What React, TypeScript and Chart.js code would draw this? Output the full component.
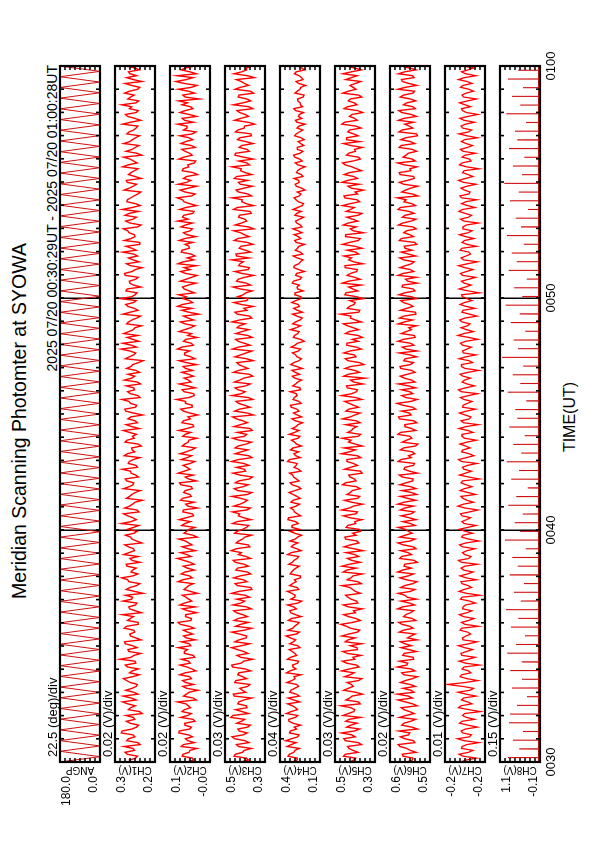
import React, { useEffect, useRef } from "react";
import { Chart, registerables } from "chart.js";

Chart.register(...registerables);

// ---------- time axis ----------
const T_MIN = 30;
const T_MAX = 60;
const TIME_TICKS = [30, 40, 50, 60];
const TIME_TICK_LABELS = ["0030", "0040", "0050", "0100"];

// ---------- panels ----------
const PANEL_NAMES = ["ANGP", "CH1(V)", "CH2(V)", "CH3(V)", "CH4(V)", "CH5(V)", "CH6(V)", "CH7(V)", "CH8(V)"];
const PANEL_DIV_LABELS = [
  "22.5 (deg)/div", "0.02 (V)/div", "0.02 (V)/div", "0.03 (V)/div", "0.04 (V)/div",
  "0.03 (V)/div", "0.02 (V)/div", "0.01 (V)/div", "0.15 (V)/div",
];
const PANEL_MIN = [0, 0.17, -0.04, 0.27, 0.08, 0.27, 0.47, -0.245, -0.1];
const PANEL_MAX = [180, 0.33, 0.12, 0.51, 0.4, 0.51, 0.63, -0.165, 1.1];
const PANEL_TOP_LABELS = ["180.0", "0.3", "0.1", "0.5", "0.4", "0.5", "0.6", "-0.2", "1.1"];
const PANEL_BOTTOM_LABELS = ["0.0", "0.2", "-0.0", "0.3", "0.1", "0.3", "0.5", "-0.2", "-0.1"];
const DIVISIONS = 8;

// ---------- data ----------
const ANGP_VALUES = [
  180, 0, 180, 0, 180, 0, 180, 0, 180, 0, 180, 0, 180, 0, 180, 0, 180, 0, 180, 0,
  180, 0, 180, 0, 180, 0, 180, 0, 180, 0, 180, 0, 180, 0, 180, 0, 180, 0, 180, 0,
  180, 0, 180, 0, 180, 0, 180, 0, 180, 0, 180, 0, 180, 0, 180, 0, 180, 0, 180, 0,
  180, 0, 180, 0, 180, 0, 180, 0, 180, 0, 180, 0, 180, 0, 180, 0, 180, 0, 180, 0,
  180, 0, 180, 0, 180, 0, 180, 0, 180, 0, 180, 0, 180, 0, 180, 0, 180, 0, 180, 0,
  180, 0, 180, 0, 180, 0, 180, 0, 180, 0, 180, 0, 180, 0, 180, 0, 180, 0, 180, 0,
  180, 0, 180, 0, 180, 0, 180, 0, 180, 0, 180,
];

// Each channel: samples A (on the sample grid) and B (the samples between them)
const CH1_A = [
  .265, .248, .281, .252, .294, .239, .276, .258, .301, .244,
  .270, .251, .286, .232, .268, .279, .245, .297, .256, .262,
  .241, .283, .259, .272, .236, .289, .250, .266, .227, .278,
  .260, .292, .247, .271, .255, .284, .238, .269, .301, .249,
  .275, .243, .263, .288, .252, .270, .231, .279, .258, .266,
  .246, .285, .262, .237, .274, .256, .291, .244, .268, .253,
  .280, .235, .266, .259, .296, .242, .271, .250, .284, .262,
  .229, .273, .255, .289, .247, .268, .240, .277, .257, .293,
  .251, .264, .238, .282, .260, .272, .233, .286, .249, .267,
  .256, .291, .243, .274, .230, .269, .252, .285, .241, .263,
  .278, .247, .266, .236, .288, .255, .271, .244, .299, .258,
  .239, .275, .250, .283, .262, .228, .270, .253, .287, .245,
  .264, .242, .281, .256, .273, .237, .292, .249, .268, .233,
  .276, .255, .245, .286, .231, .266, .252, .279, .240, .270,
  .258, .290, .236, .262, .248, .281, .254, .227, .273, .244,
  .285, .250, .266, .238, .277, .256, .296, .243, .262, .234,
  .271, .248, .283, .255, .239, .268, .251, .288, .237, .264,
  .246, .279, .253, .272, .231, .290, .257, .244, .276, .250,
];
const CH1_B = [
  .272, .240, .290, .258, .229, .283, .250, .305, .263, .236,
  .284, .257, .221, .277, .249, .300, .266, .238, .287, .245,
  .269, .296, .233, .261, .280, .247, .310, .254, .275, .242,
  .289, .226, .268, .251, .293, .237, .280, .256, .224, .271,
  .248, .298, .260, .218, .285, .243, .275, .303, .239, .259,
  .282, .230, .270, .295, .252, .276, .222, .262, .288, .241,
  .256, .304, .245, .279, .234, .291, .260, .220, .272, .249,
  .296, .258, .283, .236, .266, .301, .246, .273, .231, .281,
  .262, .225, .290, .253, .244, .297, .263, .240, .278, .219,
  .287, .248, .268, .302, .238, .280, .255, .228, .292, .251,
  .232, .284, .259, .217, .273, .247, .306, .265, .235, .282,
  .295, .257, .224, .276, .243, .298, .238, .279, .255, .308,
  .250, .286, .226, .271, .247, .289, .261, .222, .284, .258,
  .240, .299, .263, .231, .292, .250, .274, .297, .226, .287,
  .244, .273, .301, .229, .283, .267, .238, .293, .257, .281,
  .225, .276, .252, .300, .241, .270, .223, .286, .249, .295,
  .260, .232, .274, .246, .299, .227, .280, .245, .272, .303,
  .235, .268, .291, .239, .264, .222, .283, .270, .233, .287,
];

const CH2_A = [
  .052, .031, .068, .040, .075, .022, .058, .047, .083, .035,
  .061, .028, .049, .072, .038, .056, .015, .066, .044, .053,
  .026, .070, .041, .059, .033, .080, .046, .021, .063, .050,
  .037, .074, .055, .029, .067, .043, .088, .034, .057, .048,
  .019, .062, .045, .071, .039, .054, .027, .069, .042, .060,
  .051, .024, .065, .036, .078, .047, .032, .058, .011, .064,
  .044, .073, .038, .055, .030, .067, .049, .023, .070, .041,
  .059, .035, .082, .046, .027, .063, .052, .039, .075, .033,
  .056, .018, .061, .045, .069, .037, .053, .029, .066, .048,
  .040, .077, .031, .058, .044, .025, .071, .050, .036, .064,
  .047, .030, .068, .054, .020, .062, .041, .073, .035, .057,
  .049, .084, .038, .060, .026, .066, .045, .032, .070, .043,
  .055, .022, .063, .047, .079, .034, .058, .040, .014, .067,
  .051, .036, .072, .044, .029, .061, .053, .039, .076, .030,
  .048, .065, .024, .057, .042, .070, .033, .060, .046, .087,
  .037, .054, .028, .068, .049, .017, .064, .041, .073, .035,
  .058, .045, .031, .066, .052, .026, .071, .043, .060, .038,
  .050, .003, .069, .046, .034, .063, .055, .092, .040, .057,
];
const CH2_B = [
  .025, .071, .044, .012, .066, .049, .030, .085, .041, .060,
  .020, .077, .035, .063, .047, .090, .028, .054, .008, .069,
  .058, .034, .081, .016, .052, .039, .074, .027, .062, .087,
  .043, .019, .066, .050, .024, .079, .036, .058, .013, .070,
  .081, .033, .056, .010, .064, .045, .088, .031, .075, .022,
  .067, .040, .091, .053, .018, .072, .046, .085, .029, .054,
  .021, .061, .083, .026, .069, .010, .057, .078, .035, .065,
  .030, .076, .015, .059, .087, .040, .068, .021, .052, .080,
  .034, .071, .047, .012, .060, .085, .025, .072, .039, .009,
  .067, .032, .058, .094, .023, .064, .019, .083, .046, .026,
  .073, .058, .014, .084, .037, .061, .090, .026, .066, .011,
  .034, .062, .021, .078, .048, .005, .073, .089, .030, .068,
  .086, .043, .070, .016, .056, .012, .077, .063, .088, .025,
  .020, .075, .042, .060, .083, .017, .066, .030, .058, .089,
  .070, .029, .081, .014, .064, .091, .020, .079, .013, .054,
  .066, .010, .071, .045, .023, .085, .031, .060, .019, .076,
  .029, .081, .016, .052, .090, .062, .014, .080, .028, .072,
  .085, .060, .022, .087, .012, .096, .028, .015, .076, .021,
];

const CH3_A = [
  .418, .382, .447, .395, .430, .366, .452, .401, .425, .374,
  .439, .392, .463, .408, .378, .433, .397, .455, .386, .421,
  .361, .444, .404, .427, .389, .470, .398, .416, .372, .437,
  .410, .451, .383, .423, .394, .446, .369, .431, .403, .458,
  .379, .414, .440, .388, .426, .355, .449, .400, .419, .376,
  .435, .396, .461, .384, .412, .443, .371, .428, .391, .453,
  .405, .367, .438, .399, .422, .380, .457, .393, .415, .374,
  .433, .402, .448, .363, .420, .387, .441, .397, .429, .368,
  .412, .450, .383, .425, .394, .436, .359, .418, .404, .465,
  .377, .424, .392, .444, .370, .411, .432, .386, .453, .398,
  .365, .427, .401, .439, .381, .416, .348, .430, .395, .446,
  .373, .409, .437, .389, .422, .362, .451, .397, .413, .379,
  .434, .385, .419, .357, .441, .393, .408, .372, .428, .400,
  .366, .445, .387, .415, .376, .432, .394, .458, .369, .411,
  .390, .424, .361, .437, .383, .406, .351, .429, .396, .418,
  .374, .440, .388, .412, .363, .427, .399, .447, .378, .409,
  .386, .421, .354, .433, .392, .371, .416, .389, .438, .367,
  .402, .380, .426, .358, .419, .393, .442, .375, .410, .384,
];
const CH3_B = [
  .370, .456, .405, .351, .441, .390, .468, .377, .433, .359,
  .412, .475, .369, .447, .383, .428, .350, .460, .406, .374,
  .452, .380, .433, .356, .465, .412, .344, .438, .397, .471,
  .362, .426, .380, .469, .349, .417, .455, .376, .440, .352,
  .462, .391, .363, .470, .349, .436, .378, .458, .356, .445,
  .370, .448, .357, .429, .473, .361, .443, .404, .350, .437,
  .382, .464, .353, .430, .466, .358, .420, .376, .468, .349,
  .455, .371, .427, .345, .462, .394, .367, .470, .348, .449,
  .372, .431, .351, .464, .380, .347, .457, .376, .441, .339,
  .452, .360, .428, .343, .468, .389, .449, .358, .421, .344,
  .459, .373, .426, .341, .451, .382, .466, .360, .430, .347,
  .445, .366, .424, .468, .350, .436, .379, .340, .456, .371,
  .401, .347, .462, .383, .431, .338, .451, .364, .420, .469,
  .441, .356, .425, .343, .455, .365, .417, .337, .449, .381,
  .428, .352, .459, .338, .410, .467, .373, .444, .346, .430,
  .455, .349, .417, .468, .378, .340, .451, .364, .425, .341,
  .435, .352, .447, .395, .332, .452, .369, .423, .343, .460,
  .356, .431, .338, .449, .368, .413, .334, .457, .380, .345,
];

const CH4_A = [
  .301, .262, .325, .280, .343, .271, .308, .249, .318, .286,
  .297, .330, .258, .312, .276, .339, .290, .245, .321, .283,
  .266, .306, .288, .348, .273, .299, .252, .315, .281, .327,
  .259, .294, .317, .268, .336, .284, .247, .309, .277, .322,
  .290, .255, .313, .279, .341, .263, .300, .285, .238, .307,
  .272, .329, .289, .251, .311, .266, .293, .320, .259, .283,
  .244, .305, .276, .331, .262, .290, .271, .312, .240, .296,
  .281, .254, .318, .269, .298, .233, .287, .263, .324, .275,
  .250, .295, .268, .309, .241, .284, .302, .257, .278, .226,
  .292, .264, .316, .249, .286, .271, .236, .299, .258, .281,
  .243, .304, .266, .289, .229, .276, .252, .311, .261, .235,
  .283, .247, .270, .298, .239, .265, .221, .290, .255, .274,
  .232, .279, .260, .246, .293, .228, .268, .251, .285, .237,
  .262, .219, .277, .248, .270, .234, .287, .256, .224, .266,
  .243, .281, .230, .259, .212, .272, .245, .263, .227, .279,
  .251, .216, .268, .238, .257, .223, .283, .241, .261, .209,
  .254, .232, .270, .218, .248, .264, .226, .245, .275, .220,
  .239, .258, .207, .262, .234, .251, .215, .247, .271, .229,
];
const CH4_B = [
  .263, .337, .289, .246, .310, .355, .257, .324, .268, .235,
  .329, .276, .349, .260, .301, .242, .335, .270, .312, .251,
  .344, .279, .233, .320, .296, .258, .340, .266, .303, .240,
  .323, .275, .351, .245, .297, .262, .333, .230, .314, .268,
  .339, .227, .283, .306, .250, .323, .271, .236, .318, .294,
  .246, .301, .264, .340, .231, .310, .257, .278, .228, .321,
  .304, .255, .336, .234, .286, .316, .244, .295, .265, .328,
  .232, .303, .247, .291, .322, .252, .270, .339, .238, .289,
  .317, .229, .284, .255, .326, .249, .271, .219, .305, .262,
  .248, .310, .230, .295, .264, .318, .241, .275, .227, .302,
  .279, .222, .313, .248, .265, .301, .236, .280, .206, .293,
  .258, .315, .235, .276, .222, .301, .261, .245, .307, .231,
  .282, .214, .263, .302, .240, .275, .205, .290, .249, .216,
  .295, .239, .261, .204, .283, .254, .225, .297, .238, .276,
  .211, .266, .296, .221, .254, .288, .233, .201, .270, .246,
  .287, .229, .260, .199, .278, .243, .292, .216, .262, .235,
  .207, .283, .244, .263, .200, .276, .252, .212, .290, .236,
  .259, .214, .280, .241, .196, .272, .227, .284, .202, .256,
];

const CH5_A = [
  .421, .386, .448, .402, .435, .371, .457, .410, .393, .440,
  .378, .426, .462, .397, .415, .359, .444, .408, .387, .431,
  .412, .369, .453, .395, .424, .381, .466, .403, .436, .376,
  .418, .449, .390, .427, .362, .441, .405, .384, .458, .399,
  .430, .373, .414, .446, .388, .420, .352, .437, .401, .461,
  .383, .425, .409, .368, .443, .396, .417, .379, .451, .404,
  .365, .433, .392, .422, .385, .470, .398, .411, .374, .439,
  .406, .381, .447, .393, .428, .356, .416, .400, .438, .377,
  .423, .455, .389, .413, .370, .434, .402, .445, .382, .419,
  .360, .427, .397, .452, .386, .409, .375, .441, .399, .330,
  .430, .391, .418, .363, .448, .395, .421, .383, .439, .406,
  .372, .426, .401, .460, .388, .415, .367, .436, .396, .422,
  .380, .444, .403, .354, .429, .392, .417, .376, .450, .398,
  .411, .369, .437, .389, .424, .358, .446, .400, .383, .431,
  .405, .371, .442, .394, .419, .378, .456, .390, .413, .364,
  .434, .397, .425, .381, .448, .401, .370, .428, .393, .416,
  .362, .440, .399, .422, .385, .453, .392, .408, .374, .435,
  .395, .418, .368, .431, .402, .387, .445, .377, .412, .396,
];
const CH5_B = [
  .397, .459, .372, .426, .351, .448, .389, .470, .363, .416,
  .446, .356, .431, .391, .474, .370, .422, .345, .458, .401,
  .437, .349, .420, .471, .366, .441, .391, .354, .463, .378,
  .350, .432, .469, .375, .417, .475, .358, .429, .387, .346,
  .460, .381, .433, .357, .404, .468, .373, .415, .346, .440,
  .468, .359, .436, .391, .341, .455, .367, .447, .383, .357,
  .443, .386, .349, .460, .376, .425, .344, .452, .362, .418,
  .360, .465, .384, .420, .347, .453, .375, .438, .355, .471,
  .388, .345, .429, .467, .356, .411, .380, .359, .464, .392,
  .444, .368, .426, .349, .470, .381, .437, .343, .417, .458,
  .363, .450, .336, .432, .384, .457, .352, .440, .371, .345,
  .447, .368, .435, .352, .418, .477, .362, .424, .389, .340,
  .451, .373, .428, .466, .359, .437, .380, .449, .343, .428,
  .456, .386, .348, .465, .370, .447, .339, .418, .460, .374,
  .439, .348, .417, .466, .362, .452, .375, .340, .432, .469,
  .375, .455, .351, .409, .465, .358, .441, .387, .346, .459,
  .441, .371, .433, .354, .469, .377, .423, .344, .455, .378,
  .430, .349, .463, .384, .420, .355, .412, .463, .352, .438,
];

const CH6_A = [
  .562, .538, .581, .549, .590, .531, .571, .556, .594, .543,
  .575, .527, .566, .552, .585, .540, .598, .557, .534, .578,
  .550, .569, .521, .583, .546, .563, .592, .537, .573, .555,
  .544, .588, .560, .529, .576, .551, .595, .541, .567, .535,
  .580, .553, .524, .570, .548, .587, .539, .565, .557, .599,
  .545, .572, .533, .584, .558, .526, .577, .549, .591, .542,
  .568, .530, .579, .554, .546, .589, .536, .574, .560, .523,
  .582, .547, .566, .538, .593, .552, .570, .532, .586, .556,
  .541, .575, .519, .564, .550, .588, .544, .571, .535, .596,
  .553, .527, .578, .546, .567, .539, .584, .557, .530, .573,
  .561, .543, .590, .536, .569, .551, .522, .581, .548, .576,
  .533, .565, .555, .597, .540, .574, .528, .563, .552, .587,
  .545, .571, .537, .580, .559, .525, .577, .549, .568, .534,
  .591, .556, .542, .573, .531, .585, .551, .564, .539, .579,
  .526, .570, .554, .589, .543, .566, .518, .583, .547, .575,
  .560, .535, .593, .550, .572, .529, .578, .557, .541, .586,
  .548, .567, .524, .581, .553, .536, .574, .545, .595, .538,
  .563, .549, .576, .532, .569, .555, .584, .540, .571, .552,
];
const CH6_B = [
  .540, .578, .525, .563, .597, .536, .588, .551, .520, .583,
  .547, .592, .533, .574, .522, .569, .541, .601, .546, .529,
  .588, .540, .575, .530, .601, .559, .535, .579, .524, .586,
  .571, .522, .546, .593, .538, .582, .527, .576, .548, .600,
  .532, .586, .561, .597, .530, .571, .522, .590, .536, .580,
  .574, .521, .591, .544, .587, .537, .598, .529, .569, .557,
  .596, .548, .526, .585, .533, .571, .599, .527, .589, .544,
  .526, .591, .539, .581, .520, .574, .536, .597, .545, .531,
  .589, .528, .581, .543, .598, .527, .570, .523, .592, .546,
  .584, .540, .602, .521, .583, .551, .527, .596, .544, .589,
  .530, .587, .548, .575, .524, .593, .566, .534, .598, .529,
  .585, .545, .524, .572, .592, .526, .588, .538, .577, .523,
  .594, .530, .582, .521, .568, .598, .535, .590, .544, .575,
  .527, .585, .570, .523, .593, .536, .575, .525, .596, .546,
  .581, .534, .598, .528, .574, .600, .541, .568, .519, .592,
  .533, .590, .547, .522, .599, .541, .566, .524, .593, .531,
  .586, .520, .594, .539, .571, .596, .524, .583, .529, .576,
  .527, .589, .538, .598, .523, .580, .534, .596, .526, .583,
];

const CH7_A = [
  -.196, -.228, -.193, -.221, -.199, -.233, -.190, -.218, -.197, -.230,
  -.194, -.224, -.200, -.236, -.192, -.219, -.198, -.227, -.191, -.222,
  -.170, -.231, -.195, -.217, -.199, -.234, -.193, -.225, -.197, -.220,
  -.192, -.229, -.200, -.216, -.195, -.232, -.198, -.223, -.194, -.219,
  -.201, -.226, -.196, -.235, -.193, -.218, -.199, -.228, -.195, -.221,
  -.197, -.230, -.192, -.217, -.200, -.225, -.194, -.233, -.198, -.220,
  -.193, -.227, -.199, -.216, -.196, -.231, -.191, -.222, -.201, -.226,
  -.195, -.219, -.197, -.234, -.194, -.218, -.200, -.229, -.192, -.223,
  -.198, -.215, -.195, -.228, -.199, -.221, -.193, -.232, -.197, -.217,
  -.194, -.226, -.201, -.219, -.196, -.230, -.192, -.224, -.199, -.216,
  -.195, -.233, -.198, -.220, -.193, -.227, -.200, -.218, -.196, -.231,
  -.191, -.222, -.197, -.215, -.194, -.229, -.199, -.225, -.195, -.219,
  -.200, -.234, -.193, -.217, -.198, -.226, -.196, -.221, -.192, -.230,
  -.197, -.216, -.195, -.228, -.199, -.223, -.194, -.219, -.201, -.232,
  -.196, -.218, -.193, -.225, -.198, -.229, -.195, -.215, -.197, -.227,
  -.192, -.221, -.200, -.233, -.194, -.217, -.199, -.226, -.196, -.220,
  -.198, -.230, -.193, -.218, -.197, -.224, -.195, -.231, -.200, -.216,
  -.194, -.228, -.199, -.222, -.196, -.219, -.192, -.227, -.198, -.223,
];
const CH7_B = [
  -.207, -.201, -.212, -.198, -.209, -.203, -.214, -.200, -.206, -.211,
  -.199, -.208, -.204, -.213, -.197, -.210, -.202, -.207, -.215, -.200,
  -.205, -.209, -.198, -.212, -.203, -.206, -.211, -.199, -.208, -.204,
  -.213, -.201, -.207, -.210, -.198, -.205, -.212, -.202, -.209, -.200,
  -.206, -.214, -.199, -.208, -.203, -.211, -.197, -.207, -.210, -.202,
  -.205, -.198, -.213, -.204, -.209, -.200, -.207, -.212, -.201, -.206,
  -.210, -.203, -.208, -.199, -.214, -.205, -.202, -.209, -.197, -.211,
  -.204, -.207, -.200, -.212, -.206, -.203, -.210, -.198, -.208, -.213,
  -.201, -.206, -.209, -.204, -.199, -.211, -.207, -.202, -.214, -.205,
  -.208, -.200, -.210, -.203, -.212, -.197, -.206, -.209, -.204, -.201,
  -.211, -.205, -.198, -.213, -.207, -.202, -.209, -.200, -.206, -.212,
  -.203, -.208, -.210, -.199, -.205, -.214, -.201, -.207, -.204, -.209,
  -.198, -.211, -.206, -.203, -.212, -.200, -.208, -.205, -.210, -.202,
  -.207, -.213, -.199, -.209, -.204, -.206, -.211, -.201, -.208, -.203,
  -.212, -.205, -.200, -.210, -.207, -.198, -.213, -.204, -.209, -.202,
  -.206, -.211, -.203, -.208, -.199, -.214, -.205, -.201, -.210, -.207,
  -.204, -.209, -.212, -.200, -.206, -.203, -.211, -.208, -.198, -.205,
  -.210, -.202, -.207, -.213, -.201, -.209, -.204, -.206, -.211, -.200,
];

const CH8_BASE = -0.06;
const CH8_SPIKE_PEAKS = [
  .86, .52, .71, .41, .83, .80, .59, .29, .74, .44,
  .79, .45, .88, .62, .35, .77, .55, .92, .48, .68,
  .38, .81, .57, .73, .33, .95, .50, .66, .42, .85,
  .61, .27, .76, .53, .90, .46, .70, .36, .82, .58,
  .64, .31, .87, .49, .72, .40, 1.04, .56, .69, .34,
  .78, .51, .93, .43, .67, .30, .84, .60, .75, .39,
  .89, .47, .63, .26, .80, .54, .97, .44, .71, .37,
  .83, .58, .65, .32, .91, .49, .74, .41, .86, .55,
];

// ---------- build tables for Chart.js ----------
type Pt = { x: number; y: number };
function evenSeries(values: number[]): Pt[] {
  const n = values.length;
  return values.map((v, i) => ({ x: T_MIN + (i * (T_MAX - T_MIN)) / (n - 1), y: v }));
}
function interleave(a: number[], b: number[]): number[] {
  const out: number[] = [];
  a.forEach((v, i) => {
    out.push(v);
    if (i < b.length) out.push(b[i]);
  });
  return out;
}
function spikeSeries(peaks: number[], base: number): Pt[] {
  const n = peaks.length;
  const period = (T_MAX - T_MIN) / n;
  const pts: Pt[] = [{ x: T_MIN, y: base }];
  peaks.forEach((p, i) => {
    const t = T_MIN + (i + 0.5) * period;
    pts.push({ x: t - 0.006, y: base }, { x: t, y: p }, { x: t + 0.006, y: base });
  });
  pts.push({ x: T_MAX, y: base });
  return pts;
}

const SERIES: Pt[][] = [
  evenSeries(ANGP_VALUES),
  evenSeries(interleave(CH1_A, CH1_B)),
  evenSeries(interleave(CH2_A, CH2_B)),
  evenSeries(interleave(CH3_A, CH3_B)),
  evenSeries(interleave(CH4_A, CH4_B)),
  evenSeries(interleave(CH5_A, CH5_B)),
  evenSeries(interleave(CH6_A, CH6_B)),
  evenSeries(interleave(CH7_A, CH7_B)),
  spikeSeries(CH8_SPIKE_PEAKS, CH8_BASE),
];
const SERIES_COLORS = ["#d01010", "#ff0000", "#ff0000", "#ff0000", "#ff0000", "#ff0000", "#ff0000", "#ff0000", "#d01010"];
const SERIES_WIDTHS = [1, 1.4, 1.4, 1.4, 1.4, 1.4, 1.4, 1.3, 1.1];

// ---------- layout (landscape page, rotated afterwards) ----------
const LAND_W = 842;
const LAND_H = 595;
const PLOT_LEFT = 80;
const PLOT_RIGHT = 776;
const PANEL_TOP0 = 60;
const PANEL_STEP = 55;
const PANEL_H = 40;
const LABEL_SPACE = 20;
const FONT = '"Liberation Sans", Arial, Helvetica, sans-serif';

const panelFramePlugin = {
  id: "panelFrame",
  afterDraw(chart: any, _args: any, opts: any) {
    const { ctx, chartArea } = chart;
    const { left, right, top, bottom } = chartArea;
    const xs = chart.scales.x;
    const ys = chart.scales.y;
    const k = opts.index as number;
    const min = PANEL_MIN[k];
    const max = PANEL_MAX[k];
    ctx.save();
    ctx.strokeStyle = "#000";
    ctx.lineWidth = 1.6;
    ctx.beginPath();
    for (let m = T_MIN + 1; m < T_MAX; m++) {
      const px = xs.getPixelForValue(m);
      ctx.moveTo(px, top);
      ctx.lineTo(px, top + 4);
      ctx.moveTo(px, bottom);
      ctx.lineTo(px, bottom - 4);
    }
    const step = (max - min) / DIVISIONS;
    for (let d = 1; d < DIVISIONS; d++) {
      const py = ys.getPixelForValue(min + d * step);
      ctx.moveTo(left, py);
      ctx.lineTo(left + 4, py);
      ctx.moveTo(right, py);
      ctx.lineTo(right - 4, py);
    }
    ctx.stroke();
    ctx.lineWidth = 2.2;
    ctx.strokeRect(left, top, right - left, bottom - top);

    ctx.fillStyle = "#000";
    ctx.font = `12px ${FONT}`;
    ctx.textAlign = "right";
    ctx.textBaseline = "top";
    ctx.fillText(PANEL_TOP_LABELS[k], 66, ys.getPixelForValue(max) + 0.5);
    ctx.textBaseline = "bottom";
    ctx.fillText(PANEL_BOTTOM_LABELS[k], 66, ys.getPixelForValue(min));

    ctx.font = `13px ${FONT}`;
    ctx.textAlign = "left";
    ctx.textBaseline = "alphabetic";
    ctx.fillText(PANEL_DIV_LABELS[k], left + 5, top - 3);

    if (opts.showTime) {
      ctx.font = `13px ${FONT}`;
      ctx.textAlign = "center";
      ctx.textBaseline = "top";
      TIME_TICKS.forEach((v, i) => {
        ctx.fillText(TIME_TICK_LABELS[i], xs.getPixelForValue(v), bottom + 5);
      });
    }

    ctx.translate(72, (top + bottom) / 2);
    ctx.rotate(-Math.PI / 2);
    ctx.font = `10px ${FONT}`;
    ctx.textAlign = "center";
    ctx.textBaseline = "middle";
    ctx.fillText(PANEL_NAMES[k], 0, 0);
    ctx.restore();
  },
};

function canvasHeight(k: number) {
  return k === PANEL_NAMES.length - 1 ? LABEL_SPACE + PANEL_H + 26 : LABEL_SPACE + PANEL_H + 4;
}

function makeConfig(k: number): any {
  const h = canvasHeight(k);
  const isBottom = k === PANEL_NAMES.length - 1;
  return {
    type: "line",
    data: {
      datasets: [
        {
          data: SERIES[k],
          borderColor: SERIES_COLORS[k],
          borderWidth: SERIES_WIDTHS[k],
          pointRadius: 0,
          tension: 0,
          fill: false,
          borderJoinStyle: "miter",
        },
      ],
    },
    options: {
      animation: false,
      responsive: false,
      maintainAspectRatio: false,
      devicePixelRatio: 1,
      events: [],
      parsing: false,
      normalized: true,
      layout: {
        padding: { left: 0, right: LAND_W - PLOT_RIGHT, top: LABEL_SPACE, bottom: h - LABEL_SPACE - PANEL_H },
      },
      plugins: {
        legend: { display: false },
        tooltip: { enabled: false },
        panelFrame: { index: k, showTime: isBottom },
      },
      scales: {
        x: {
          type: "linear",
          min: T_MIN,
          max: T_MAX,
          afterFit: (s: any) => {
            s.height = 0;
          },
          afterBuildTicks: (s: any) => {
            s.ticks = TIME_TICKS.map((v) => ({ value: v }));
          },
          ticks: { display: false },
          border: { display: false },
          grid: {
            drawTicks: false,
            lineWidth: 1.5,
            color: (c: any) =>
              c.tick && c.tick.value > T_MIN && c.tick.value < T_MAX ? "#000000" : "rgba(0,0,0,0)",
          },
        },
        y: {
          type: "linear",
          min: PANEL_MIN[k],
          max: PANEL_MAX[k],
          afterFit: (s: any) => {
            s.width = PLOT_LEFT;
          },
          ticks: { display: false },
          grid: { display: false },
          border: { display: false },
        },
      },
    },
    plugins: [panelFramePlugin],
  };
}

export default function App() {
  const refs = useRef<(HTMLCanvasElement | null)[]>([]);

  useEffect(() => {
    document.body.style.overflow = "hidden";
    const charts = refs.current.map((c, k) => (c ? new Chart(c, makeConfig(k)) : null));
    return () => {
      charts.forEach((ch) => ch && ch.destroy());
    };
  }, []);

  const textBase: React.CSSProperties = {
    position: "absolute",
    fontFamily: FONT,
    color: "#000",
    whiteSpace: "nowrap",
  };

  return (
    <div
      style={{
        position: "absolute",
        left: 0,
        top: 0,
        width: LAND_W,
        height: LAND_H,
        background: "#fff",
        transformOrigin: "0 0",
        transform: `translateY(${LAND_W}px) rotate(-90deg)`,
        overflow: "hidden",
      }}
    >
      <div style={{ ...textBase, left: 0, width: LAND_W, top: 10, fontSize: 19.5, lineHeight: "19.5px", textAlign: "center" }}>
        Meridian Scanning Photomter at SYOWA
      </div>
      <div style={{ ...textBase, right: LAND_W - 777, top: 45, fontSize: 14, lineHeight: "14px" }}>
        2025 07/20 00:30:29UT - 2025 07/20 01:00:28UT
      </div>
      <div
        style={{
          ...textBase,
          left: 0,
          width: 850,
          top: 562,
          fontSize: 16,
          lineHeight: "16px",
          textAlign: "center",
        }}
      >
        TIME(UT)
      </div>
      {PANEL_NAMES.map((name, k) => (
        <canvas
          key={name}
          ref={(el) => {
            refs.current[k] = el;
          }}
          width={LAND_W}
          height={canvasHeight(k)}
          style={{
            position: "absolute",
            left: 0,
            top: PANEL_TOP0 + k * PANEL_STEP - LABEL_SPACE,
            width: LAND_W,
            height: canvasHeight(k),
          }}
        />
      ))}
    </div>
  );
}
